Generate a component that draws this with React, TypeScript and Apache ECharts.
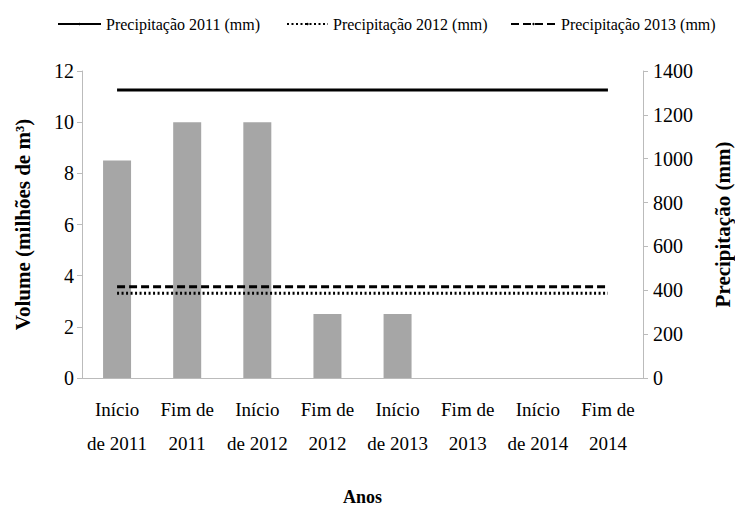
import React, { useEffect, useRef } from "react";
import * as echarts from "echarts";

const categories = [
  "Início\nde 2011",
  "Fim de\n2011",
  "Início\nde 2012",
  "Fim de\n2012",
  "Início\nde 2013",
  "Fim de\n2013",
  "Início\nde 2014",
  "Fim de\n2014",
];
const volume = [8.5, 10, 10, 2.5, 2.5, 0, 0, 0];
const precip2011 = [1313, 1313, 1313, 1313, 1313, 1313, 1313, 1313];
const precip2012 = [386, 386, 386, 386, 386, 386, 386, 386];
const precip2013 = [416, 416, 416, 416, 416, 416, 416, 416];

const FONT = "Liberation Serif";

export default function App() {
  const ref = useRef<HTMLDivElement>(null);
  useEffect(() => {
    if (!ref.current) return;
    const chart = echarts.init(ref.current, undefined, { renderer: "svg" });
    const legendBase = {
      top: 11,
      itemHeight: 3,
      textStyle: { fontFamily: FONT, fontSize: 16, color: "#000" },
      selectedMode: false,
    };
    chart.setOption({
      animation: false,
      legend: [
        { ...legendBase, left: 52, itemWidth: 43, data: ["Precipitação 2011 (mm)"] },
        { ...legendBase, left: 281, itemWidth: 41, data: ["Precipitação 2012 (mm)"] },
        { ...legendBase, left: 505, itemWidth: 45, data: ["Precipitação 2013 (mm)"] },
      ],
      grid: { left: 82, right: 92, top: 71, bottom: 130, outerBoundsMode: "none", containLabel: false },
      xAxis: {
        type: "category",
        data: categories,
        name: "Anos",
        nameLocation: "middle",
        nameGap: 110,
        nameTextStyle: { fontFamily: FONT, fontSize: 18, fontWeight: "bold", color: "#000" },
        axisLine: { lineStyle: { color: "#bbb", width: 1 } },
        axisTick: { lineStyle: { color: "#bbb" }, length: 7 },
        axisLabel: {
          interval: 0,
          fontFamily: FONT,
          fontSize: 19,
          color: "#000",
          lineHeight: 34,
          margin: 14,
        },
      },
      yAxis: [
        {
          type: "value",
          min: 0,
          max: 12,
          interval: 2,
          name: "Volume (milhões de m³)",
          nameLocation: "middle",
          nameGap: 49,
          nameTextStyle: { fontFamily: FONT, fontSize: 21, fontWeight: "bold", color: "#000" },
          splitLine: { show: false },
          axisLine: { show: true, lineStyle: { color: "#bbb" } },
          axisTick: { show: true, length: 5, lineStyle: { color: "#bbb" } },
          axisLabel: {
            fontFamily: FONT,
            fontSize: 20,
            color: "#000",
            margin: 8,
            formatter: (v: number) => String(v),
          },
        },
        {
          type: "value",
          min: 0,
          max: 1400,
          interval: 200,
          name: "Precipitação (mm)",
          nameLocation: "middle",
          nameGap: 69,
          nameRotate: 90,
          nameTextStyle: { fontFamily: FONT, fontSize: 21, fontWeight: "bold", color: "#000" },
          splitLine: { show: false },
          axisLine: { show: true, lineStyle: { color: "#bbb" } },
          axisTick: { show: true, length: 5, lineStyle: { color: "#bbb" } },
          axisLabel: {
            fontFamily: FONT,
            fontSize: 20,
            color: "#000",
            margin: 10,
            formatter: (v: number) => String(v),
          },
        },
      ],
      series: [
        {
          name: "Volume",
          type: "bar",
          data: volume,
          barWidth: 28,
          itemStyle: { color: "#a6a6a6" },
        },
        {
          name: "Precipitação 2011 (mm)",
          type: "line",
          yAxisIndex: 1,
          data: precip2011,
          symbol: "none",
          lineStyle: { color: "#000", width: 3, type: "solid" },
          itemStyle: { color: "#000" },
        },
        {
          name: "Precipitação 2012 (mm)",
          type: "line",
          yAxisIndex: 1,
          data: precip2012,
          symbol: "none",
          lineStyle: { color: "#000", width: 3, type: [2, 2.5] },
          itemStyle: { color: "#000" },
        },
        {
          name: "Precipitação 2013 (mm)",
          type: "line",
          yAxisIndex: 1,
          data: precip2013,
          symbol: "none",
          lineStyle: { color: "#000", width: 3, type: [8, 4] },
          itemStyle: { color: "#000" },
        },
      ],
    });
    return () => chart.dispose();
  }, []);
  return (
    <div
      ref={ref}
      style={{ position: "absolute", left: 0, top: 0, width: 735, height: 508 }}
    />
  );
}
